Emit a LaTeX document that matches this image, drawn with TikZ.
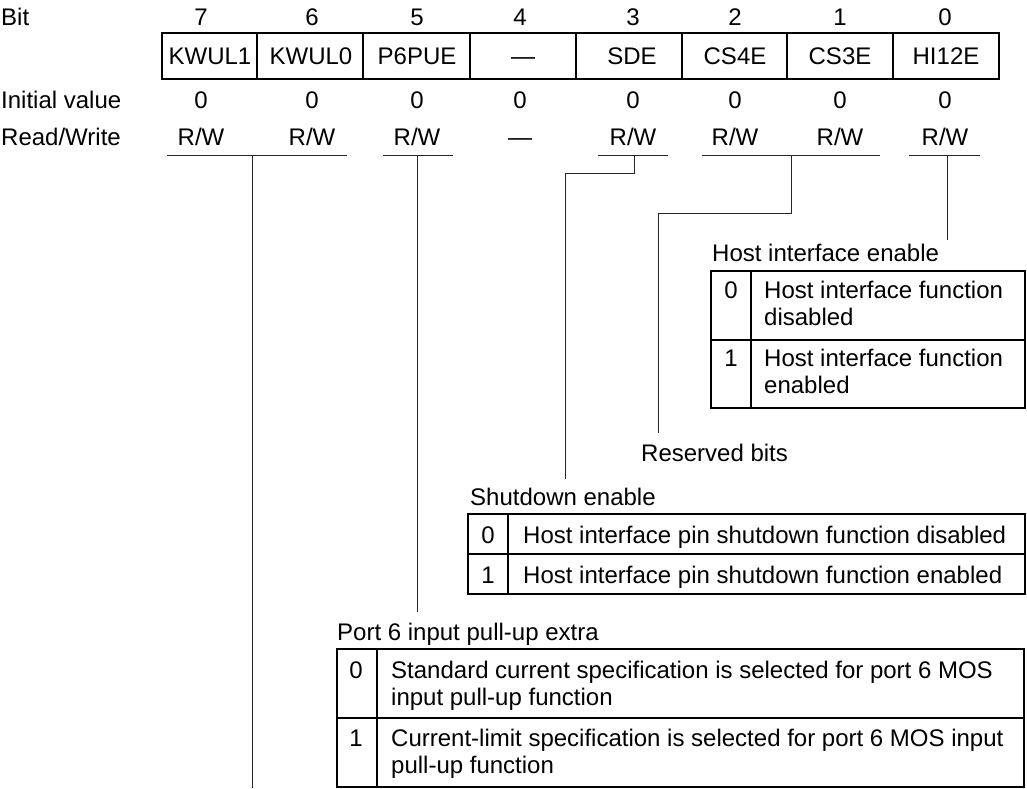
\documentclass[tikz,border=0pt]{standalone}
\usepackage{fontspec}
\setmainfont{Liberation Sans}
\begin{document}
\begin{tikzpicture}[x=1pt,y=-1pt,
  lbl/.style={inner sep=0pt, font=\fontsize{24}{27}\selectfont, text height=17.2pt, text depth=0pt},
  lblw/.style={lbl, anchor=west},
  cellt/.style={inner sep=0pt, font=\fontsize{24}{27}\selectfont, anchor=north west, align=left},
  ln/.style={line width=1pt, draw=black!85},
  tbl/.style={line width=1.2pt}]
\useasboundingbox (0,0) rectangle (1027,788);

% row headings
\node[lblw] (hbit) at (1,17) {Bit};
\node[lblw] (hinit) at (1,100) {Initial value};
\node[lblw] (hrw) at (1,137) {Read/Write};

% register box
\draw[tbl] (162,33) rectangle (999,79);
\foreach \x in {257,363,470,576,682,787,893} \draw[tbl] (\x,33) -- (\x,79);

\def\RW{R/W}
\foreach \x/\xn/\b/\n/\r in {201/210/7/KWUL1/1,312/311/6/KWUL0/1,417/417/5/P6PUE/1,520/523/4/---/0,633/632/3/SDE/1,735/735/2/CS4E/1,840/840/1/CS3E/1,945/946/0/HI12E/1}{
  \node[lbl] (bit\b) at (\x,17) {\b};
  \node[lbl] (nm\b) at (\xn,56) {\n};
  \node[lbl] (iv\b) at (\x,100) {0};
  \ifnum\r=1 \node[lbl] (rw\b) at (\x,137) {\RW};
  \else \node[lbl] (rw\b) at (\x,137) {---};\fi
}

% underlines
\draw[ln] (167,155) -- (347,155);
\draw[ln] (383,155) -- (453,155);
\draw[ln] (598,155) -- (668,155);
\draw[ln] (702,155) -- (880,155);
\draw[ln] (909,155) -- (980,155);

\coordinate (u76) at (252,155);
\coordinate (e76) at (252,788);
\coordinate (u5) at (417,155);
\coordinate (e5) at (417,612);
\coordinate (u3) at (634,155);
\coordinate (k3) at (565,173);
\coordinate (e3) at (565,479);
\coordinate (u21) at (791,155);
\coordinate (k21) at (658,213);
\coordinate (e21) at (658,433);
\coordinate (u0) at (947,155);
\coordinate (e0) at (947,240);

\draw[ln] (u76) -- (e76);
\draw[ln] (u5) -- (e5);
\draw[ln] (u3) |- (k3) -- (e3);
\draw[ln] (u21) |- (k21) -- (e21);
\draw[ln] (u0) -- (e0);

% Host interface enable
\node[lblw] (hietitle) at (712,253) {Host interface enable};
\draw[tbl] (711,271) rectangle (1025,408);
\draw[tbl] (711,340) -- (1025,340);
\draw[tbl] (751,271) -- (751,408);
\node[lbl] (hie0) at (731,290) {0};
\node[lbl] (hie1) at (731,358) {1};
\node[cellt] (hie0t) at (764,281) {Host interface function\\disabled};
\node[cellt] (hie1t) at (764,349) {Host interface function\\enabled};

% Reserved bits
\node[lblw] (resv) at (641,453) {Reserved bits};

% Shutdown enable
\node[lblw] (sdetitle) at (470,497) {Shutdown enable};
\draw[tbl] (468,514) rectangle (1025,594);
\draw[tbl] (468,554) -- (1025,554);
\draw[tbl] (508,514) -- (508,594);
\node[lbl] (sde0) at (488,535) {0};
\node[lbl] (sde1) at (488,575) {1};
\node[lblw] (sde0t) at (523,535) {Host interface pin shutdown function disabled};
\node[lblw] (sde1t) at (523,575) {Host interface pin shutdown function enabled};

% Port 6 input pull-up extra
\node[lblw] (p6title) at (337,632) {Port 6 input pull-up extra};
\draw[tbl] (337,649) rectangle (1024,787);
\draw[tbl] (337,718) -- (1024,718);
\draw[tbl] (377,649) -- (377,787);
\node[lbl] (p60) at (356,670) {0};
\node[lbl] (p61) at (356,738) {1};
\node[cellt] (p60t) at (391,661) {Standard current specification is selected for port 6 MOS\\input pull-up function};
\node[cellt] (p61t) at (391,729) {Current-limit specification is selected for port 6 MOS input\\pull-up function};
\end{tikzpicture}
\end{document}
